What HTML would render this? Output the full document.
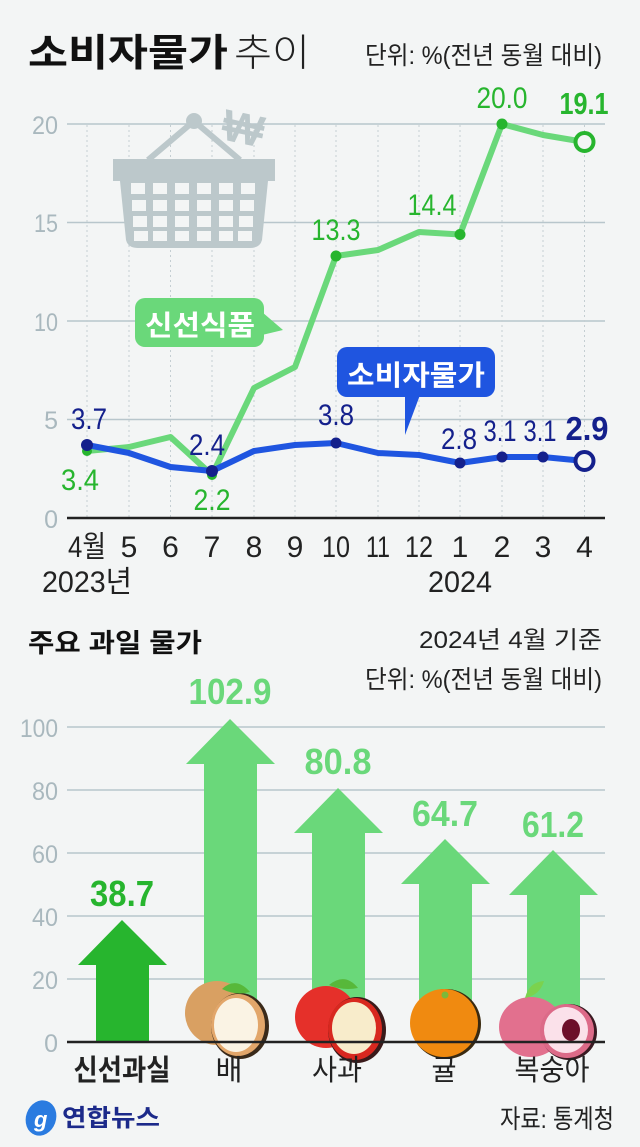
<!DOCTYPE html>
<html><head><meta charset="utf-8"><style>
html,body{margin:0;padding:0;background:#f3f5f5}
svg{display:block}
text{font-family:"Liberation Sans","Noto Sans CJK KR",sans-serif}
</style></head><body>
<svg width="640" height="1147" viewBox="0 0 640 1147" xmlns="http://www.w3.org/2000/svg">
<rect width="640" height="1147" fill="#f3f5f5"/>
<text x="28" y="66" font-size="38" font-weight="bold" fill="#111" textLength="200" lengthAdjust="spacingAndGlyphs">소비자물가</text>
<text x="234" y="66" font-size="38" font-weight="300" fill="#222" textLength="76" lengthAdjust="spacingAndGlyphs">추이</text>
<text x="365" y="64" font-size="25" fill="#222" textLength="237" lengthAdjust="spacingAndGlyphs">단위: %(전년 동월 대비)</text>

<g stroke="#b8c6cc" stroke-width="1.5">
<line x1="67" y1="124" x2="605" y2="124"/><line x1="67" y1="222.5" x2="605" y2="222.5"/>
<line x1="67" y1="321" x2="605" y2="321"/><line x1="67" y1="419.5" x2="605" y2="419.5"/>
</g>
<g stroke="#c4ced2" stroke-width="1" stroke-dasharray="2,3">
<line x1="87" y1="125" x2="87" y2="518"/><line x1="129" y1="125" x2="129" y2="518"/><line x1="170.5" y1="125" x2="170.5" y2="518"/>
<line x1="212" y1="125" x2="212" y2="518"/><line x1="254" y1="125" x2="254" y2="518"/><line x1="295" y1="125" x2="295" y2="518"/>
<line x1="336" y1="125" x2="336" y2="518"/><line x1="378" y1="125" x2="378" y2="518"/><line x1="419" y1="125" x2="419" y2="518"/>
<line x1="460" y1="125" x2="460" y2="518"/><line x1="502" y1="125" x2="502" y2="518"/><line x1="543" y1="125" x2="543" y2="518"/><line x1="584.5" y1="125" x2="584.5" y2="518"/>
</g>
<g font-size="25" fill="#a9b8be" text-anchor="end">
<text x="58" y="134" textLength="26" lengthAdjust="spacingAndGlyphs">20</text><text x="58" y="232" textLength="24" lengthAdjust="spacingAndGlyphs">15</text><text x="58" y="331" textLength="24" lengthAdjust="spacingAndGlyphs">10</text><text x="58" y="429">5</text><text x="58" y="528">0</text>
</g>

<g fill="#bcc8cb">
<circle cx="194" cy="121" r="8"/>
<path d="M148 160 L194 121 L240 160" fill="none" stroke="#bcc8cb" stroke-width="6"/>
<text x="222" y="144" font-size="44" font-weight="bold" fill="#bcc8cb" transform="rotate(12 245 130)">₩</text>
<rect x="113" y="159" width="162" height="22"/>
<path d="M120 181 H268 L262 240 Q260 248 250 248 H138 Q128 248 126 240 Z"/>
</g>
<g fill="#f3f5f5">
<rect x="131" y="183" width="14" height="11"/><rect x="153" y="183" width="14" height="11"/><rect x="175" y="183" width="14" height="11"/><rect x="197" y="183" width="14" height="11"/><rect x="219" y="183" width="14" height="11"/><rect x="241" y="183" width="14" height="11"/>
<rect x="132" y="200" width="14" height="11"/><rect x="153" y="200" width="14" height="11"/><rect x="175" y="200" width="14" height="11"/><rect x="197" y="200" width="14" height="11"/><rect x="219" y="200" width="14" height="11"/><rect x="240" y="200" width="14" height="11"/>
<rect x="133" y="216" width="14" height="11"/><rect x="153" y="216" width="14" height="11"/><rect x="175" y="216" width="14" height="11"/><rect x="197" y="216" width="14" height="11"/><rect x="219" y="216" width="14" height="11"/><rect x="239" y="216" width="14" height="11"/>
<rect x="134" y="231" width="14" height="10"/><rect x="153" y="231" width="14" height="10"/><rect x="175" y="231" width="14" height="10"/><rect x="197" y="231" width="14" height="10"/><rect x="219" y="231" width="14" height="10"/><rect x="238" y="231" width="14" height="10"/>
</g>

<polyline points="87,451 129,447 170.5,437 212,475 254,388 295,367 336,256 378,250 419,232 460,234.5 502,124 543,135 584.5,142" fill="none" stroke="#6ad87a" stroke-width="6" stroke-linejoin="round"/>
<polyline points="87,445 129,453 170.5,467 212,471 254,451 295,445 336,443 378,453 419,455 460,463 502,457 543,457 584.5,461" fill="none" stroke="#1f55e0" stroke-width="6" stroke-linejoin="round"/>
<g fill="#27b52e">
<circle cx="87" cy="451" r="5"/><circle cx="212" cy="475" r="5"/><circle cx="336" cy="256" r="5.5"/><circle cx="460" cy="234.5" r="5.5"/><circle cx="502" cy="124" r="5.5"/>
</g>
<circle cx="584.5" cy="142" r="9" fill="#f3f5f5" stroke="#27b52e" stroke-width="4"/>
<g fill="#14208c">
<circle cx="87" cy="445" r="6"/><circle cx="212" cy="471" r="6"/><circle cx="336" cy="443" r="5.5"/><circle cx="460" cy="463" r="5.5"/><circle cx="502" cy="457" r="5.5"/><circle cx="543" cy="457" r="5.5"/>
</g>
<circle cx="584.5" cy="461" r="9" fill="#f3f5f5" stroke="#14208c" stroke-width="4"/>

<line x1="67" y1="518" x2="605" y2="518" stroke="#222" stroke-width="2.5"/>

<g font-size="30" fill="#27b52e" text-anchor="middle">
<text x="80" y="490" textLength="38" lengthAdjust="spacingAndGlyphs">3.4</text>
<text x="212" y="510" textLength="37" lengthAdjust="spacingAndGlyphs">2.2</text>
<text x="336" y="240" textLength="49" lengthAdjust="spacingAndGlyphs">13.3</text>
<text x="432" y="215" textLength="49" lengthAdjust="spacingAndGlyphs">14.4</text>
<text x="502" y="108" textLength="51" lengthAdjust="spacingAndGlyphs">20.0</text>
<text x="584" y="114" font-weight="bold" font-size="31" textLength="49" lengthAdjust="spacingAndGlyphs">19.1</text>
</g>
<g font-size="30" fill="#14208c" text-anchor="middle">
<text x="89" y="429" textLength="36" lengthAdjust="spacingAndGlyphs">3.7</text>
<text x="207" y="455" textLength="36" lengthAdjust="spacingAndGlyphs">2.4</text>
<text x="336" y="425" textLength="36" lengthAdjust="spacingAndGlyphs">3.8</text>
<text x="459" y="449" textLength="36" lengthAdjust="spacingAndGlyphs">2.8</text>
<text x="500" y="441" textLength="33" lengthAdjust="spacingAndGlyphs">3.1</text>
<text x="540" y="441" textLength="33" lengthAdjust="spacingAndGlyphs">3.1</text>
<text x="587" y="440" font-weight="bold" font-size="33" textLength="43" lengthAdjust="spacingAndGlyphs">2.9</text>
</g>

<rect x="135" y="298" width="129" height="49" rx="10" fill="#6ad87a"/>
<path d="M262 312 L283 330 L262 335 Z" fill="#6ad87a"/>
<text x="145" y="335" font-size="28" font-weight="bold" fill="#fff" textLength="110" lengthAdjust="spacingAndGlyphs">신선식품</text>
<rect x="337" y="347" width="158" height="50" rx="10" fill="#1f55e0"/>
<path d="M405 395 L420 395 L405 435 Z" fill="#1f55e0"/>
<text x="347" y="385" font-size="28" font-weight="bold" fill="#fff" textLength="138" lengthAdjust="spacingAndGlyphs">소비자물가</text>

<g font-size="30" fill="#222" text-anchor="middle">
<text x="87" y="557" textLength="38" lengthAdjust="spacingAndGlyphs">4월</text><text x="129" y="557">5</text><text x="170.5" y="557">6</text><text x="212" y="557">7</text><text x="254" y="557">8</text><text x="295" y="557">9</text>
<text x="336" y="557" textLength="28" lengthAdjust="spacingAndGlyphs">10</text><text x="378" y="557" textLength="24" lengthAdjust="spacingAndGlyphs">11</text><text x="419" y="557" textLength="28" lengthAdjust="spacingAndGlyphs">12</text>
<text x="460" y="557">1</text><text x="502" y="557">2</text><text x="543" y="557">3</text><text x="584.5" y="557">4</text>
<text x="87" y="592" textLength="90" lengthAdjust="spacingAndGlyphs">2023년</text><text x="460" y="592" textLength="64" lengthAdjust="spacingAndGlyphs">2024</text>
</g>

<text x="28" y="652" font-size="26" font-weight="bold" fill="#111" textLength="174" lengthAdjust="spacingAndGlyphs">주요 과일 물가</text>
<text x="602" y="648" font-size="24" fill="#222" text-anchor="end" textLength="183" lengthAdjust="spacingAndGlyphs">2024년 4월 기준</text>
<text x="602" y="688" font-size="25" fill="#222" text-anchor="end" textLength="237" lengthAdjust="spacingAndGlyphs">단위: %(전년 동월 대비)</text>

<g stroke="#b8c6cc" stroke-width="1.5">
<line x1="67" y1="727" x2="605" y2="727"/><line x1="67" y1="790" x2="605" y2="790"/><line x1="67" y1="853" x2="605" y2="853"/><line x1="67" y1="916" x2="605" y2="916"/><line x1="67" y1="979" x2="605" y2="979"/>
</g>
<g font-size="25" fill="#a9b8be" text-anchor="end">
<text x="58" y="737" textLength="38" lengthAdjust="spacingAndGlyphs">100</text><text x="58" y="800" textLength="26" lengthAdjust="spacingAndGlyphs">80</text><text x="58" y="863" textLength="26" lengthAdjust="spacingAndGlyphs">60</text><text x="58" y="926" textLength="26" lengthAdjust="spacingAndGlyphs">40</text><text x="58" y="989" textLength="26" lengthAdjust="spacingAndGlyphs">20</text><text x="58" y="1052">0</text>
</g>

<path d="M122 920 L167 965 L149 965 L149 1042 L96 1042 L96 965 L78 965 Z" fill="#27b52e"/>
<path d="M230 719 L275 764 L257 764 L257 1042 L204 1042 L204 764 L186 764 Z" fill="#6ad87a"/>
<path d="M338 788 L383 833 L365 833 L365 1042 L312 1042 L312 833 L294 833 Z" fill="#6ad87a"/>
<path d="M445 839 L490 884 L472 884 L472 1042 L419 1042 L419 884 L401 884 Z" fill="#6ad87a"/>
<path d="M553 850 L598 895 L580 895 L580 1042 L527 1042 L527 895 L509 895 Z" fill="#6ad87a"/>

<g font-size="36" font-weight="bold" text-anchor="middle">
<text x="122" y="906" fill="#27b52e" textLength="64" lengthAdjust="spacingAndGlyphs">38.7</text>
<text x="230" y="704" fill="#6ad87a" textLength="83" lengthAdjust="spacingAndGlyphs">102.9</text>
<text x="338" y="774" fill="#6ad87a" textLength="67" lengthAdjust="spacingAndGlyphs">80.8</text>
<text x="445" y="826" fill="#6ad87a" textLength="66" lengthAdjust="spacingAndGlyphs">64.7</text>
<text x="553" y="837" fill="#6ad87a" textLength="62" lengthAdjust="spacingAndGlyphs">61.2</text>
</g>

<g>
<circle cx="217" cy="1013" r="32" fill="#d9a062"/>
<ellipse cx="240" cy="1026" rx="29" ry="33" fill="#3a2a1a"/>
<ellipse cx="238" cy="1025" rx="27" ry="31" fill="#e2a66a"/>
<ellipse cx="236" cy="1025" rx="22" ry="27" fill="#faf3e4"/>
<path d="M222 989 Q236 976 250 992 Q236 996 222 989Z" fill="#57b83a"/>
<circle cx="326" cy="1017" r="31" fill="#e5302a"/>
<ellipse cx="357" cy="1030" rx="29" ry="33" fill="#3a1a1a"/>
<ellipse cx="355" cy="1029" rx="27" ry="31" fill="#d8281f"/>
<ellipse cx="354" cy="1028" rx="22" ry="26" fill="#f8eccb"/>
<path d="M329 985 Q345 972 358 988 Q343 991 329 985Z" fill="#57b83a"/>
<circle cx="446" cy="1024" r="35" fill="#3a2a10"/>
<circle cx="444" cy="1023" r="34" fill="#f08a10"/>
<circle cx="445" cy="995" r="3.5" fill="#7bb93a"/>
<ellipse cx="531" cy="1027" rx="32" ry="30" fill="#e2708e"/>
<ellipse cx="569" cy="1032" rx="28" ry="28" fill="#3a1a22"/>
<ellipse cx="567" cy="1031" rx="27" ry="27" fill="#dc6a88"/>
<ellipse cx="566" cy="1030" rx="22" ry="23" fill="#fbe1ea"/>
<ellipse cx="571" cy="1030" rx="9" ry="11" fill="#6d0f2a"/>
<path d="M525 998 Q529 982 544 981 Q540 995 525 998Z" fill="#7bd24e"/>
</g>

<line x1="67" y1="1042" x2="605" y2="1042" stroke="#222" stroke-width="2.5"/>

<g font-size="29" fill="#222" text-anchor="middle">
<text x="122" y="1080" font-weight="bold" textLength="97" lengthAdjust="spacingAndGlyphs">신선과실</text>
<text x="229" y="1080" textLength="27" lengthAdjust="spacingAndGlyphs">배</text>
<text x="337" y="1080" textLength="50" lengthAdjust="spacingAndGlyphs">사과</text>
<text x="444" y="1080" textLength="25" lengthAdjust="spacingAndGlyphs">귤</text>
<text x="552" y="1080" textLength="75" lengthAdjust="spacingAndGlyphs">복숭아</text>
</g>

<ellipse cx="41" cy="1118" rx="15" ry="18" fill="#2a7be0" transform="rotate(20 41 1118)"/>
<text x="34" y="1127" font-size="22" font-style="italic" font-weight="bold" fill="#fff">g</text>
<text x="62" y="1126" font-size="24" font-weight="bold" fill="#1c2a8a" textLength="98" lengthAdjust="spacingAndGlyphs">연합뉴스</text>
<text x="614" y="1128" font-size="26" fill="#222" text-anchor="end" textLength="114" lengthAdjust="spacingAndGlyphs">자료: 통계청</text>
</svg>
</body></html>
